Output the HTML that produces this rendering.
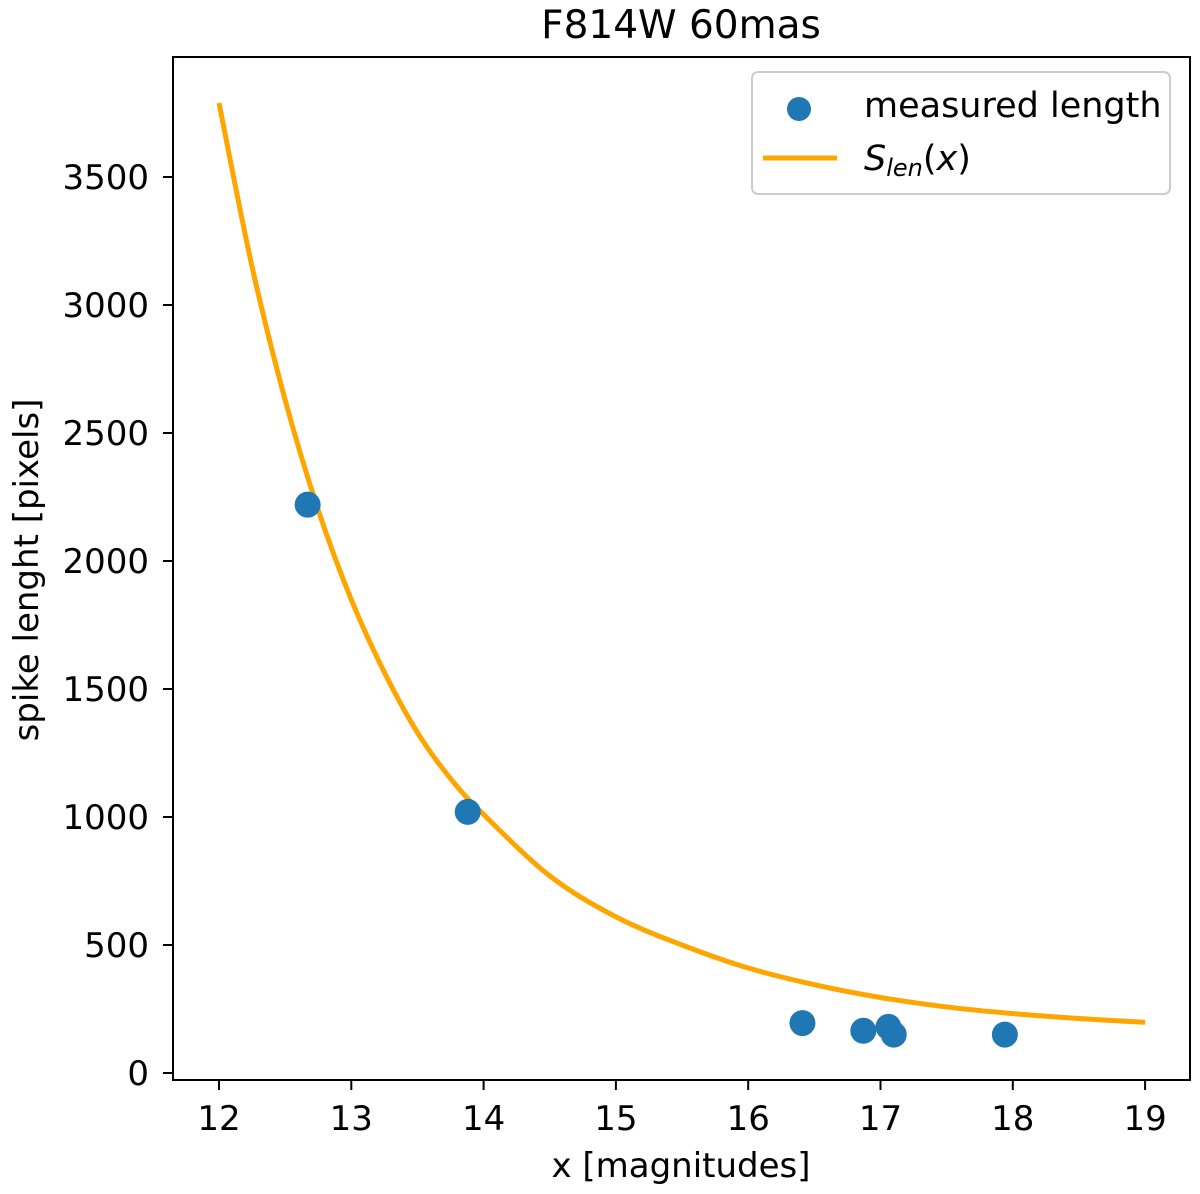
<!DOCTYPE html>
<html><head><meta charset="utf-8"><style>
body{margin:0;background:#fff}
svg text{font-family:"DejaVu Sans","Liberation Sans",sans-serif;fill:#000}
</style></head><body>
<svg id="chart" width="1200" height="1189" xmlns="http://www.w3.org/2000/svg">
<text x="681" y="38" font-size="39" text-anchor="middle">F814W 60mas</text>
<rect x="173" y="57" width="1017" height="1023" fill="none" stroke="#000" stroke-width="2"/>
<g id="xticks"></g><g id="yticks"></g>
<path id="curve" fill="none" stroke="#ffa500" stroke-width="5"/>
<g id="points"></g>
<text x="681" y="1177" font-size="34" text-anchor="middle">x [magnitudes]</text>
<text transform="translate(38,570) rotate(-90)" font-size="34" text-anchor="middle">spike lenght [pixels]</text>
<g>
<rect x="752" y="72" width="418" height="122" rx="6" fill="#fff" stroke="#ccc" stroke-width="2"/>
<circle cx="799" cy="109" r="12" fill="#1f77b4"/>
<text x="864" y="117" font-size="35">measured length</text>
<line x1="763" y1="158" x2="837" y2="158" stroke="#ffa500" stroke-width="5"/>
<text x="864" y="170" font-size="35" font-style="italic">S<tspan font-size="24" dy="6">len</tspan><tspan dy="-6" font-style="normal">(</tspan>x<tspan font-style="normal">)</tspan></text>
</g>
</svg>
<script>
const xTicks=[12,13,14,15,16,17,18,19];
const yTicks=[0,500,1000,1500,2000,2500,3000,3500];
const pointX=[12.67,13.88,16.41,16.87,17.06,17.1,17.94];
const pointY=[2220,1020,195,165,180,150,150];
const curveX=[12,12.25,12.5,12.75,13,13.25,13.5,13.75,14,14.5,15,15.5,16,16.5,17,17.5,18,18.5,19];
const curveY=[3789,3149,2629,2199,1849,1565,1330,1150,1010,770,610,500,410,345,295,258,232,213,198];
const sx=v=>219+(v-12)*132.3;
const sy=v=>1073-v*0.256;
const NS="http://www.w3.org/2000/svg";
const xg=document.getElementById('xticks'),yg=document.getElementById('yticks');
xTicks.forEach(t=>{
 const l=document.createElementNS(NS,'line');
 
 
 l.setAttribute('x1',sx(t));l.setAttribute('x2',sx(t));l.setAttribute('y1',1080);l.setAttribute('y2',1090);l.setAttribute('stroke','#000');l.setAttribute('stroke-width',2);xg.appendChild(l);
 const tx=document.createElementNS(NS,'text');
 
 
 tx.setAttribute('x',sx(t));tx.setAttribute('y',1130);tx.setAttribute('font-size',34);tx.setAttribute('text-anchor','middle');tx.textContent=t;xg.appendChild(tx);
});
yTicks.forEach(t=>{
 const l=document.createElementNS(NS,'line');
 
 
 l.setAttribute('x1',163);l.setAttribute('x2',173);l.setAttribute('y1',sy(t));l.setAttribute('y2',sy(t));l.setAttribute('stroke','#000');l.setAttribute('stroke-width',2);yg.appendChild(l);
 const tx=document.createElementNS(NS,'text');
 
 
 tx.setAttribute('x',149);tx.setAttribute('y',sy(t)+12);tx.setAttribute('font-size',34);tx.setAttribute('text-anchor','end');tx.textContent=t;yg.appendChild(tx);
});
const P=curveX.map((x,i)=>[sx(x),sy(curveY[i])]);
let d='M'+P[0][0]+','+P[0][1];
for(let i=0;i<P.length-1;i++){
 const p0=P[Math.max(0,i-1)],p1=P[i],p2=P[i+1],p3=P[Math.min(P.length-1,i+2)];
 d+=' C'+(p1[0]+(p2[0]-p0[0])/6)+','+(p1[1]+(p2[1]-p0[1])/6)+' '+(p2[0]-(p3[0]-p1[0])/6)+','+(p2[1]-(p3[1]-p1[1])/6)+' '+p2[0]+','+p2[1];
}
document.getElementById('curve').setAttribute('d',d);
const pg=document.getElementById('points');
pointX.forEach((x,i)=>{
 const c=document.createElementNS(NS,'circle');
 
 
 c.setAttribute('cx',sx(x));c.setAttribute('cy',sy(pointY[i]));c.setAttribute('r',13);c.setAttribute('fill','#1f77b4');pg.appendChild(c);
});
</script>
</body></html>
